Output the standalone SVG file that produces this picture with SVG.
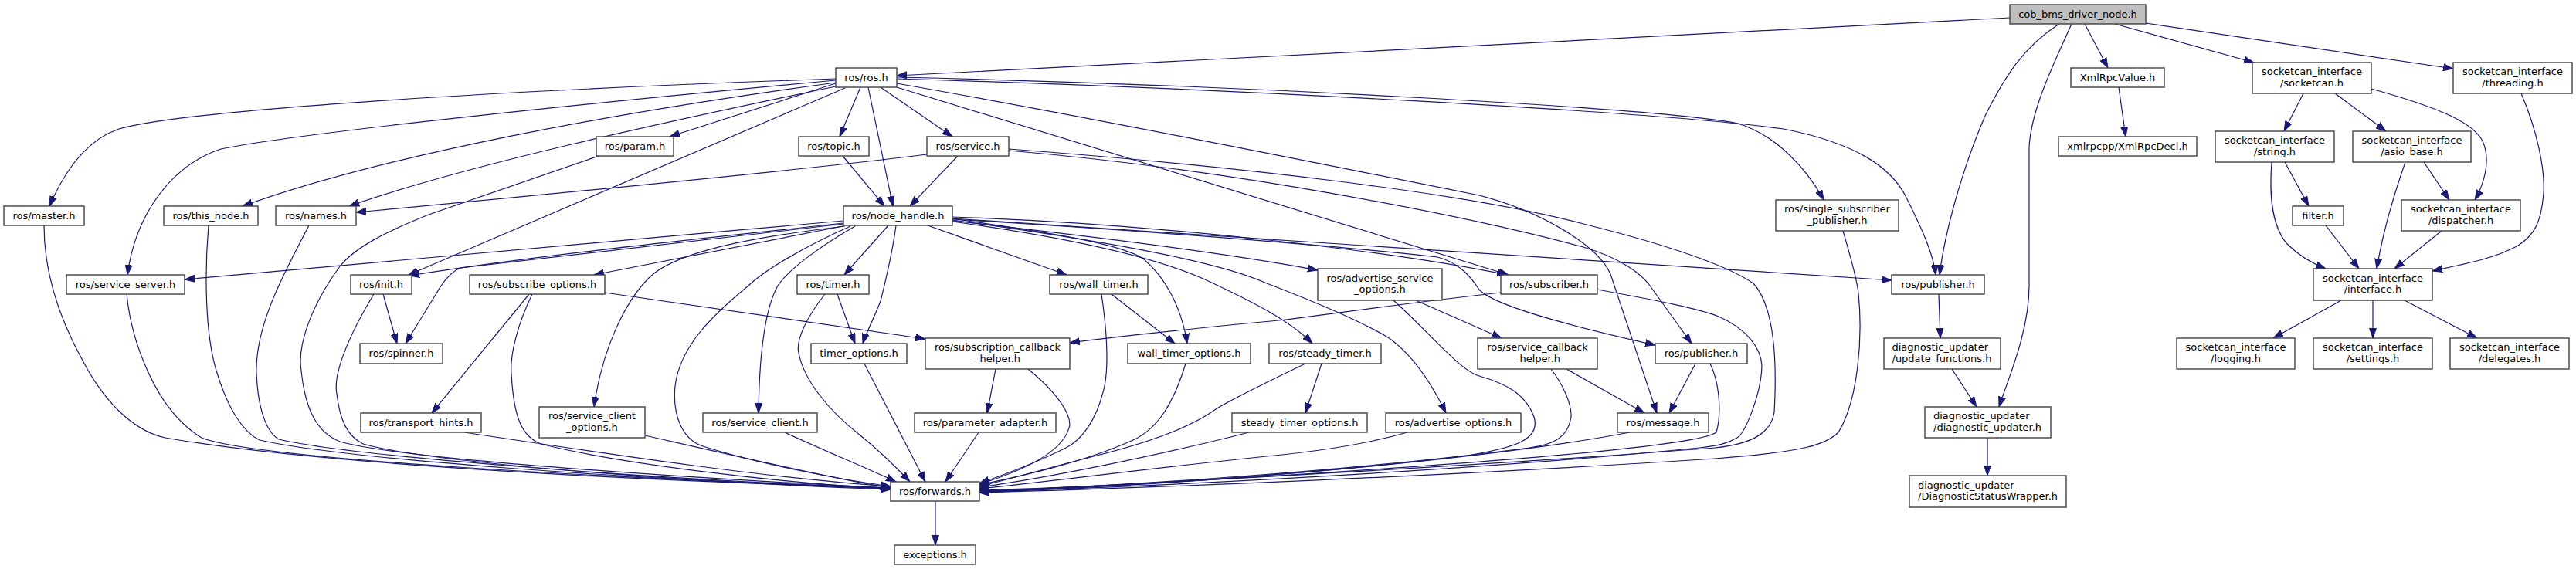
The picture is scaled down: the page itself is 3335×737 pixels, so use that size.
<svg xmlns="http://www.w3.org/2000/svg" width="3335" height="737" viewBox="0 0 3335 737">
<defs>
<marker id="a" markerUnits="userSpaceOnUse" markerWidth="14" markerHeight="10" viewBox="0 0 14 10" refX="13" refY="5" orient="auto"><path d="M0,0.5 L13,5 L0,9.5 z" fill="#191970" stroke="#191970" stroke-width="1"/></marker>
</defs>
<style>
.n rect{fill:#ffffff;stroke:#404040;stroke-width:1.4}
.r rect{fill:#bfbfbf;stroke:#404040;stroke-width:1.4}
text{font-family:"DejaVu Sans","Liberation Sans",sans-serif;font-size:13px;fill:#000;text-anchor:middle}
text.l{text-anchor:start}
.e path{fill:none;stroke:#191970;stroke-width:1.2;marker-end:url(#a)}
</style>
<rect x="0" y="0" width="3335" height="737" fill="#ffffff"/>
<g id="edges" class="e">
<path d="M2602,23 C2200,45 1600,75 1161,98"/>
<path d="M2666,31 C2620,60 2595,100 2570,150 C2540,220 2518,300 2511,356"/>
<path d="M2682,31 C2660,80 2630,140 2627,190 L2627,370 C2627,430 2600,490 2588,527"/>
<path d="M2699,31 L2729,88"/>
<path d="M2738,31 L2918,81"/>
<path d="M2778,30 L3176,89"/>
<path d="M2743,113 L2752,177"/>
<path d="M2982,121 L2957,170"/>
<path d="M3023,121 L3089,170"/>
<path d="M3070,115 C3160,140 3205,160 3215,185 C3225,210 3215,240 3204,259"/>
<path d="M2958,210 L2989,267"/>
<path d="M2941,210 C2938,250 2940,290 2960,315 C2975,330 2990,340 3011,348"/>
<path d="M3011,292 L3054,348"/>
<path d="M3114,210 C3100,250 3085,300 3077,348"/>
<path d="M3138,210 L3171,259"/>
<path d="M3161,299 L3100,348"/>
<path d="M3264,121 C3285,170 3295,220 3293,250 C3290,290 3280,305 3260,318 C3230,335 3190,342 3149,351"/>
<path d="M3031,389 L2943,438"/>
<path d="M3072,389 L3072,438"/>
<path d="M3113,389 L3207,438"/>
<path d="M2510,381 L2512,438"/>
<path d="M2527,478 L2559,527"/>
<path d="M2573,567 L2573,616"/>
<path d="M1082,102 C700,115 250,140 154,167 C110,182 82,225 64,267"/>
<path d="M1082,104 C800,130 400,170 286,193 C220,215 175,280 165,356"/>
<path d="M1082,107 C800,145 500,200 314,267"/>
<path d="M1082,112 C850,160 600,215 452,267"/>
<path d="M1082,108 L867,177"/>
<path d="M1094,114 L529,356"/>
<path d="M1114,113 L1087,177"/>
<path d="M1124,113 L1156,267"/>
<path d="M1140,113 L1233,177"/>
<path d="M1161,100 C1600,110 2150,140 2250,160 C2300,175 2340,220 2361,259"/>
<path d="M1161,102 C1600,115 2150,145 2309,167 C2400,185 2450,215 2470,260 C2490,300 2503,330 2506,356"/>
<path d="M1161,113 L1953,356"/>
<path d="M1161,108 C1400,150 1700,210 1915,253 C2000,275 2070,320 2085,355 L2145,535"/>
<path d="M1200,200 C1000,225 600,262 461,275"/>
<path d="M1240,202 L1178,267"/>
<path d="M1306,193 C1600,215 1900,250 2050,290 C2150,315 2230,340 2270,367 C2300,400 2300,480 2297,534 C2293,560 2270,575 2220,580 C1900,605 1500,625 1268,637"/>
<path d="M1306,195 C1600,220 1900,280 2050,320 C2100,335 2125,355 2136,370 L2190,445"/>
<path d="M1091,202 L1145,267"/>
<path d="M775,202 L555,278 C500,300 460,320 440,345 C400,400 385,450 390,480 C395,530 410,560 440,572 C520,595 900,620 1153,632"/>
<path d="M496,381 L514,445"/>
<path d="M484,381 C460,420 430,480 436,510 C440,545 450,565 470,575 C560,600 900,625 1153,634"/>
<path d="M1092,286 C800,312 500,338 239,362"/>
<path d="M1092,289 C900,310 700,330 530,357"/>
<path d="M1092,290 L596,347 C585,352 575,362 565,380 L525,445"/>
<path d="M1091,293 L769,356"/>
<path d="M1094,293 C950,310 870,330 840,360 C810,390 780,450 769,527"/>
<path d="M1101,293 C1040,320 990,350 969,370 C920,410 880,450 874,500 C870,540 885,570 910,578 C980,600 1080,620 1153,630"/>
<path d="M1107,293 C1060,320 1020,350 1007,370 C990,400 983,460 982,535"/>
<path d="M1150,292 L1093,356"/>
<path d="M1160,292 C1155,330 1145,370 1140,390 C1130,415 1120,435 1117,445"/>
<path d="M1201,292 L1381,356"/>
<path d="M1231,283 C1350,300 1450,315 1480,335 C1510,360 1530,400 1537,445"/>
<path d="M1233,281 C1500,290 1800,325 1951,356"/>
<path d="M1233,283 C1700,310 2100,340 2449,363"/>
<path d="M1233,284 C1500,300 1750,320 1861,333 C1890,340 1905,360 1915,375 C1930,392 2000,415 2143,447"/>
<path d="M1233,286 C1450,310 1600,330 1706,350"/>
<path d="M1233,287 C1400,310 1500,335 1560,362 C1620,390 1670,415 1699,445"/>
<path d="M1233,285 C1450,315 1580,340 1640,367 C1700,390 1760,415 1797,437 C1830,460 1855,500 1872,535"/>
<path d="M685,381 L559,535"/>
<path d="M689,381 C670,420 660,460 662,484 C665,540 675,565 700,575 C800,600 1000,625 1153,633"/>
<path d="M783,379 L1198,439"/>
<path d="M835,564 C950,590 1080,620 1153,632"/>
<path d="M1016,560 C1070,585 1120,605 1160,624"/>
<path d="M601,560 C800,590 1000,620 1153,630"/>
<path d="M1084,381 L1107,445"/>
<path d="M1068,381 C1045,410 1030,440 1034,457 C1040,490 1070,530 1115,565 C1140,585 1160,605 1178,624"/>
<path d="M1119,471 L1198,624"/>
<path d="M1439,381 L1521,445"/>
<path d="M1426,381 C1432,420 1436,470 1430,500 C1420,545 1400,570 1380,580 C1340,600 1300,615 1268,626"/>
<path d="M1535,471 C1520,520 1500,555 1467,570 C1400,600 1320,617 1268,628"/>
<path d="M1289,478 L1278,535"/>
<path d="M1331,478 C1370,510 1385,535 1385,550 C1380,580 1340,605 1268,627"/>
<path d="M1267,560 L1224,624"/>
<path d="M1211,649 L1211,706"/>
<path d="M1690,471 C1640,495 1590,520 1574,530 C1540,555 1480,575 1420,590 C1360,605 1310,620 1268,630"/>
<path d="M1711,471 L1690,535"/>
<path d="M1617,560 C1500,590 1350,620 1268,631"/>
<path d="M1822,560 C1770,575 1700,585 1650,590 C1500,605 1350,625 1268,633"/>
<path d="M1833,389 L1944,438"/>
<path d="M1804,389 C1850,430 1890,480 1915,487 C1950,497 1975,510 1986,540 C1995,570 1960,580 1900,590 C1700,615 1450,630 1268,635"/>
<path d="M2028,478 L2129,535"/>
<path d="M2008,478 C2025,500 2035,525 2034,540 C2030,565 2015,575 1980,580 C1750,610 1450,630 1268,636"/>
<path d="M1943,379 C1800,395 1700,410 1665,414 C1550,425 1450,435 1385,444"/>
<path d="M2068,375 C2150,390 2200,400 2225,410 C2260,425 2280,450 2281,474 C2280,510 2260,560 2249,567 C2235,575 2225,577 2200,580 C1900,610 1500,630 1268,637"/>
<path d="M2195,471 L2161,535"/>
<path d="M2214,471 C2228,500 2228,540 2222,560 C2200,578 1900,605 1268,638"/>
<path d="M2110,560 C1900,600 1500,630 1268,637"/>
<path d="M2386,299 C2395,330 2404,360 2406,380 C2412,440 2405,520 2380,560 C2365,575 2340,585 2220,594 C1900,615 1500,632 1268,638"/>
<path d="M57,292 C57,340 70,400 107,467 C140,530 180,560 214,567 C400,600 800,622 1153,632"/>
<path d="M164,381 C170,440 200,530 261,567 C330,595 800,620 1153,632"/>
<path d="M270,292 C265,350 265,430 280,480 C295,530 315,560 336,570 C450,595 800,620 1153,633"/>
<path d="M400,292 C370,350 330,420 332,484 C334,530 345,560 361,569 C450,590 800,618 1153,633"/>
</g>
<g id="cob_bms_driver_node" class="r"><rect x="2602" y="6" width="176" height="25"/><text x="2690" y="23">cob_bms_driver_node.h</text></g>
<g id="ros_ros" class="n"><rect x="1082" y="88" width="79" height="25"/><text x="1121.5" y="105">ros/ros.h</text></g>
<g id="xmlrpcvalue" class="n"><rect x="2681" y="88" width="121" height="25"/><text x="2741.5" y="105">XmlRpcValue.h</text></g>
<g id="socketcan" class="n"><rect x="2916" y="81" width="154" height="40"/><text x="2993" y="97">socketcan_interface</text><text x="2993" y="111.5">/socketcan.h</text></g>
<g id="threading" class="n"><rect x="3176" y="81" width="154" height="40"/><text x="3253" y="97">socketcan_interface</text><text x="3253" y="111.5">/threading.h</text></g>
<g id="param" class="n"><rect x="772" y="177" width="100" height="25"/><text x="822" y="194">ros/param.h</text></g>
<g id="topic" class="n"><rect x="1034" y="177" width="91" height="25"/><text x="1079.5" y="194">ros/topic.h</text></g>
<g id="service" class="n"><rect x="1200" y="177" width="106" height="25"/><text x="1253" y="194">ros/service.h</text></g>
<g id="xmlrpcdecl" class="n"><rect x="2665" y="177" width="179" height="25"/><text x="2754.5" y="194">xmlrpcpp/XmlRpcDecl.h</text></g>
<g id="string" class="n"><rect x="2868" y="170" width="154" height="40"/><text x="2945" y="186">socketcan_interface</text><text x="2945" y="200.5">/string.h</text></g>
<g id="asio_base" class="n"><rect x="3046" y="170" width="153" height="40"/><text x="3122.5" y="186">socketcan_interface</text><text x="3122.5" y="200.5">/asio_base.h</text></g>
<g id="master" class="n"><rect x="5" y="267" width="104" height="25"/><text x="57" y="283.5">ros/master.h</text></g>
<g id="this_node" class="n"><rect x="212" y="267" width="122" height="25"/><text x="273" y="283.5">ros/this_node.h</text></g>
<g id="names" class="n"><rect x="357" y="267" width="104" height="25"/><text x="409" y="283.5">ros/names.h</text></g>
<g id="node_handle" class="n"><rect x="1092" y="267" width="141" height="25"/><text x="1162.5" y="283.5">ros/node_handle.h</text></g>
<g id="single_subscriber_publisher" class="n"><rect x="2299" y="259" width="159" height="40"/><text x="2378.5" y="275">ros/single_subscriber</text><text x="2378.5" y="289.5">_publisher.h</text></g>
<g id="filter" class="n"><rect x="2968" y="267" width="66" height="25"/><text x="3001" y="283.5">filter.h</text></g>
<g id="dispatcher" class="n"><rect x="3109" y="259" width="154" height="40"/><text x="3186" y="275">socketcan_interface</text><text x="3186" y="289.5">/dispatcher.h</text></g>
<g id="service_server" class="n"><rect x="86" y="356" width="153" height="25"/><text x="162.5" y="372.5">ros/service_server.h</text></g>
<g id="init" class="n"><rect x="454" y="356" width="79" height="25"/><text x="493.5" y="372.5">ros/init.h</text></g>
<g id="subscribe_options" class="n"><rect x="608" y="356" width="175" height="25"/><text x="695.5" y="372.5">ros/subscribe_options.h</text></g>
<g id="timer" class="n"><rect x="1032" y="356" width="93" height="25"/><text x="1078.5" y="372.5">ros/timer.h</text></g>
<g id="wall_timer" class="n"><rect x="1359" y="356" width="127" height="25"/><text x="1422.5" y="372.5">ros/wall_timer.h</text></g>
<g id="advertise_service_options" class="n"><rect x="1706" y="348" width="161" height="41"/><text x="1786.5" y="364.5">ros/advertise_service</text><text x="1786.5" y="379">_options.h</text></g>
<g id="subscriber" class="n"><rect x="1943" y="356" width="125" height="25"/><text x="2005.5" y="372.5">ros/subscriber.h</text></g>
<g id="publisher_a" class="n"><rect x="2449" y="356" width="120" height="25"/><text x="2509" y="372.5">ros/publisher.h</text></g>
<g id="interface" class="n"><rect x="2995" y="348" width="154" height="41"/><text x="3072" y="364.5">socketcan_interface</text><text x="3072" y="379">/interface.h</text></g>
<g id="spinner" class="n"><rect x="466" y="445" width="107" height="26"/><text x="519.5" y="462">ros/spinner.h</text></g>
<g id="timer_options" class="n"><rect x="1050" y="445" width="124" height="26"/><text x="1112" y="462">timer_options.h</text></g>
<g id="subscription_callback_helper" class="n"><rect x="1198" y="438" width="187" height="40"/><text x="1291.5" y="454">ros/subscription_callback</text><text x="1291.5" y="468.5">_helper.h</text></g>
<g id="wall_timer_options" class="n"><rect x="1460" y="445" width="159" height="26"/><text x="1539.5" y="462">wall_timer_options.h</text></g>
<g id="steady_timer" class="n"><rect x="1643" y="445" width="145" height="26"/><text x="1715.5" y="462">ros/steady_timer.h</text></g>
<g id="service_callback_helper" class="n"><rect x="1913" y="438" width="155" height="40"/><text x="1990.5" y="454">ros/service_callback</text><text x="1990.5" y="468.5">_helper.h</text></g>
<g id="publisher_b" class="n"><rect x="2143" y="445" width="119" height="26"/><text x="2202.5" y="462">ros/publisher.h</text></g>
<g id="update_functions" class="n"><rect x="2439" y="438" width="151" height="40"/><text class="l" x="2449.5" y="454">diagnostic_updater</text><text class="l" x="2449.5" y="468.5">/update_functions.h</text></g>
<g id="logging" class="n"><rect x="2818" y="438" width="153" height="40"/><text x="2894.5" y="454">socketcan_interface</text><text x="2894.5" y="468.5">/logging.h</text></g>
<g id="settings" class="n"><rect x="2995" y="438" width="154" height="40"/><text x="3072" y="454">socketcan_interface</text><text x="3072" y="468.5">/settings.h</text></g>
<g id="delegates" class="n"><rect x="3172" y="438" width="154" height="40"/><text x="3249" y="454">socketcan_interface</text><text x="3249" y="468.5">/delegates.h</text></g>
<g id="transport_hints" class="n"><rect x="467" y="535" width="156" height="25"/><text x="545" y="551.5">ros/transport_hints.h</text></g>
<g id="service_client_options" class="n"><rect x="698" y="527" width="137" height="40"/><text x="766.5" y="543">ros/service_client</text><text x="766.5" y="557.5">_options.h</text></g>
<g id="service_client" class="n"><rect x="910" y="535" width="148" height="25"/><text x="984" y="551.5">ros/service_client.h</text></g>
<g id="parameter_adapter" class="n"><rect x="1184" y="535" width="183" height="25"/><text x="1275.5" y="551.5">ros/parameter_adapter.h</text></g>
<g id="steady_timer_options" class="n"><rect x="1595" y="535" width="175" height="25"/><text x="1682.5" y="551.5">steady_timer_options.h</text></g>
<g id="advertise_options" class="n"><rect x="1794" y="535" width="175" height="25"/><text x="1881.5" y="551.5">ros/advertise_options.h</text></g>
<g id="message" class="n"><rect x="2094" y="535" width="118" height="25"/><text x="2153" y="551.5">ros/message.h</text></g>
<g id="diagnostic_updater" class="n"><rect x="2492" y="527" width="163" height="40"/><text class="l" x="2503" y="543">diagnostic_updater</text><text class="l" x="2503" y="557.5">/diagnostic_updater.h</text></g>
<g id="forwards" class="n"><rect x="1153" y="624" width="115" height="25"/><text x="1210.5" y="640.5">ros/forwards.h</text></g>
<g id="diagnostic_status_wrapper" class="n"><rect x="2472" y="616" width="203" height="41"/><text class="l" x="2483" y="632.5">diagnostic_updater</text><text class="l" x="2483" y="647">/DiagnosticStatusWrapper.h</text></g>
<g id="exceptions" class="n"><rect x="1158" y="706" width="105" height="25"/><text x="1210.5" y="722.5">exceptions.h</text></g>
</svg>
